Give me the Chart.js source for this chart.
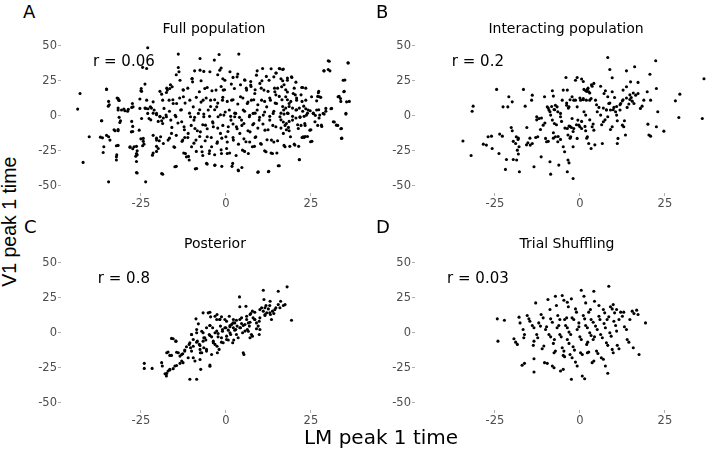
<!DOCTYPE html>
<html>
<head>
<meta charset="utf-8">
<script src="https://cdn.jsdelivr.net/npm/chart.js@4.4.1/dist/chart.umd.min.js"></script>
<style>
  body { margin: 0; width: 708px; height: 451px; background: #fff; position: relative; overflow: hidden; font-family: "DejaVu Sans", sans-serif; }
  canvas { position: absolute; }
  .txt { position: absolute; white-space: nowrap; color: #000; line-height: 1; }
  .title { width: 240px; text-align: center; font-size: 14px; }
  .tag { font-size: 18px; }
</style>
</head>
<body>
<canvas id="chartA"></canvas>
<canvas id="chartB"></canvas>
<canvas id="chartC"></canvas>
<canvas id="chartD"></canvas>

<div class="txt tag" style="left:23px;top:3px">A</div>
<div class="txt tag" style="left:376px;top:3px">B</div>
<div class="txt tag" style="left:24px;top:218px">C</div>
<div class="txt tag" style="left:376px;top:218px">D</div>

<div class="txt title" style="left:94px;top:21px">Full population</div>
<div class="txt title" style="left:446px;top:21px">Interacting population</div>
<div class="txt title" style="left:95px;top:236px">Posterior</div>
<div class="txt title" style="left:447px;top:236px">Trial Shuffling</div>

<div class="txt" style="left:281px;top:427px;width:200px;text-align:center;font-size:20px">LM peak 1 time</div>
<div class="txt" style="left:-90.5px;top:212px;width:200px;height:19.5px;text-align:center;font-family:'Liberation Sans',sans-serif;font-size:19.5px;transform:rotate(-90deg)">V1 peak 1 time</div>

<script>
// ---- data ----
const xTicks = [-25, 0, 25];
const yTicks = [-50, -25, 0, 25, 50];
const rLabels = ["r = 0.06", "r = 0.2", "r = 0.8", "r = 0.03"];

const fullPopulation = [
  [-43.6,4.8],[-42.9,16],[-40.2,-15],[-42,-33.4],[-36.6,-3.6],[-36.3,-15.8],[-35.9,-22.2],[-36.1,-26.3],[-35.1,18.9],[-34.6,6.9],
  [-34.5,10.3],[-34.5,-15],[-34.1,-17.4],[-34.5,-47.3],[-32.2,-29.4],[-32.2,-31.7],[-32.2,-21.5],[-32.6,-10.7],[-31.7,12.4],[-31.5,11.2],
  [-31.7,4.1],[-31.2,-4.8],[-31.7,-9.8],[-30.7,4.1],[-30,4.8],[-28.9,3.3],[-28.2,-22.2],[-27.8,-11.5],[-27.5,8.8],[-27.3,6.4],
  [-27,-22.2],[-26.5,-28.9],[-26.3,-27],[-26.3,-40.6],[-25.5,-10.3],[-25,17.9],[-24.9,19.6],[-24.5,-21.5],[-24.1,-20.3],[-23.8,22.7],
  [-23.6,-47.3],[-24.3,-16.2],[-24.8,-1.9],[-25.3,5.3],[-23.3,11.2],[-23.6,5.3],[-23,1.7],[-22.6,-1.9],[-22.2,6.4],[-21.6,-28.2],
  [-21.4,10],[-21.1,4.1],[-20.4,1.7],[-20.4,-17.4],[-19.9,-23.4],[-19.4,-0.7],[-19.2,-15],[-18.9,-41.3],[-18.6,11.2],[-18.6,-5.5],
  [-18.4,-19.8],[-18.2,5.3],[-17.6,0.5],[-17.5,-0.7],[-17.5,16.7],[-17.2,18.4],[-17,-17.4],[-16.7,11.2],[-16.5,19.6],[-16.2,-3.1],
  [-16,-12.6],[-15.8,20.8],[-15.5,8.8],[-15.3,-22.2],[-15,-36.5],[-14.7,-0.7],[-14.5,8.8],[-14,34.6],[-14,44.2],[-13.8,31.5],
  [-13.5,25.5],[-13.3,4.1],[-13,-4.3],[-12.7,-17.4],[-12.5,13.6],[-12.5,18.4],[-12.3,-7.9],[-12.1,-15.5],[-11.9,-27],[-11.6,-29.4],
  [-11.1,-12.6],[-10.8,-31.7],[-10.6,11.2],[-10.4,-0.7],[-10.1,-22.2],[-9.9,26.7],[-9.8,24.3],[-9.6,6.4],[-9.4,-3.1],[-9.1,-9.1],
  [-8.8,-17.4],[-8.6,-37.7],[-8.1,1.7],[-7.8,17.2],[-7.6,41],[-7.6,32.7],[-7.5,-11.5],[-7.2,-22.2],[-7,-25.8],[-6.7,11.2],
  [-6.5,-0.7],[-6.2,19.6],[-6,-6.7],[-5.7,-34.1],[-5.5,-15],[-5.2,4.1],[-4.9,-27],[-4.7,31.5],[-4.5,11.2],[-4.2,-22.2],
  [-3.9,-4.3],[-3.7,-7.9],[-3.4,39.9],[-3.2,-35.3],[-2.9,18.4],[-2.7,6.4],[-2.5,-18.6],[-2.3,-0.7],[-2,43.9],[-1.8,32.7],
  [-1.6,-12.6],[-1.3,-27],[-1,11.2],[-0.8,18.4],[-0.6,0.5],[-0.3,25.5],[0,-15],[0.2,-23.4],[0.4,-27],[0.7,-7.9],
  [1,4.1],[1.2,31.5],[1.5,-3.1],[1.7,11.2],[2,-34.1],[2.2,-17.4],[2.5,19.6],[2.6,-0.7],[2.9,1.7],[3.1,-7.9],
  [3.3,27.9],[3.6,-38.9],[3.8,44.2],[4.1,-12.6],[4.3,13.6],[4.6,-3.1],[4.9,-24.6],[5.1,4.1],[5.3,-5.5],[5.6,25.5],
  [5.9,-18.6],[6.1,18.4],[6.3,8.8],[6.6,-27],[6.9,-0.7],[7.1,-11.5],[7.3,22],[7.5,11.2],[7.8,-22.2],[8,1.7],
  [8.2,-5.5],[8.5,16],[8.8,-15],[9,29.1],[9.2,4.1],[9.5,-40.1],[9.8,-3.1],[10,23.2],[10.2,-19.8],[10.5,11.2],
  [10.8,33.9],[11,0.5],[11.2,18.4],[11.5,-10.3],[11.8,-25.8],[12,6.4],[12.5,-40.1],[12.7,25.5],[12.9,-3.1],[13.1,11.2],
  [13.4,-17.4],[13.7,-27],[13.9,1.7],[14.1,27.9],[14.4,17.2],[14.7,-7.9],[14.9,8.8],[15.4,-35.8],[15.7,33.9],[15.9,-0.7],
  [16.4,20.8],[16.7,33.2],[16.9,-12.6],[17,4.1],[17.4,-22.2],[17.6,13.6],[17.8,-5.5],[18.1,25.5],[18.3,1.7],[18.6,8.8],
  [19,-15],[19.3,27.9],[19.6,-3.1],[19.8,16],[20.3,-21],[20.6,4.1],[20.8,11.2],[21.3,-9.1],[21.6,-31.3],[21.8,-0.7],
  [22.3,20.3],[22.7,-15],[22.9,6.9],[23.2,-5.5],[23.5,11.2],[23.7,0.5],[24.2,4.1],[24.7,-10.3],[24.9,-18.6],[25.2,13.6],
  [25.7,1.7],[26.2,-4.3],[26.7,4.1],[27.2,16.5],[27.5,13.6],[27.6,0.5],[28.1,-6.7],[28.6,1.7],[28.8,32.2],[29.4,5.3],
  [30.1,33.2],[30.4,39.1],[30.6,32.2],[31.1,5.3],[31.6,-4.3],[32.5,-6.7],[33,13.6],[33.7,12.4],[34,-9.1],[34,-16.2],
  [34.5,25.5],[34.7,17.2],[35.3,1.7],[35.5,10],[35.9,37.9],[-23,48.7],[-23.3,33.9],
  [-24.5,34.7],[-35.1,19.1],[-34.3,7.9],[-32,12.7],[-31.4,11],[-31.7,5.5],[-29.7,3.6],[-28.7,4.6],[-27.7,6],[-25.3,12],
  [-24.8,17.5],[-23.8,5.5],[-22.9,5],[-21.9,5.5],[-19.4,17.5],[-18.9,15.5],[-17.4,19.8],[-21.4,1.9],[-20.4,0.7],[-19.4,-0.4],
  [-18.4,-1.6],[-22.1,-2.9],[-19.9,-4],[-18.9,-3.6],[-36.5,-3.6],[-31.4,-1.1],[-31,-3.6],[-27.7,-4],[-27.4,-7.6],[-27.4,-11.2],
  [-32.9,-10],[-31.7,-10.7],[-36.9,-15.3],[-35.1,-14],[-31.7,-21.2],[-28.2,-22.6],[-27.4,-23.6],[-26.3,-21.9],[-26.1,-25.1],[-25,-16.5],
  [-24.3,-18.3],[-21.4,-14],[-20.4,-16],[-19.6,-17.9],[-20.4,-21.9],[-21.4,-26.7],[-20.4,-25.5],[-32.1,-27.9],[-26.1,-27.9],[-26.3,-32.7],
  [-26.1,-41],[-18.6,-41.8],
  [-1.4,34.2],[-9.2,32.2],[-6.5,31.8],[3.5,29.9],[9.2,32.2],[13.3,33.7],[14.8,30.6],
  [-14.6,29.4],[-10,26.5],[-7.3,25.1],[-2.4,29.4],[-0.9,26.5],[2.1,27.5],[5.5,25.8],[7.3,24.6],[10.6,25.1],[11.9,28.2],
  [-16.3,22.2],[-12.6,18.6],[-11.2,19.8],[-5.5,20.3],[-4.1,17.9],[-1.4,21],[-0.4,18.6],[1.6,22.7],[4.3,22.2],[6,19.8],
  [7.4,21],[8.6,18.6],[10.4,19.8],[12.4,17.5],[14.3,19.8],
  [-15.6,11.5],[-13.6,12.7],[-12,9.1],[-8.7,13.2],[-7.3,9.8],[-5.8,12.7],[-4.5,6.7],[-3.3,11.5],[-2.4,9.1],[-0.9,13.2],
  [0.4,10.3],[2.1,11.5],[3.5,8.4],[5,12.7],[6.5,9.8],[8.2,11.5],[9.4,7.9],[11.4,10.3],[12.9,12.7],[14.5,9.1],
  [-16.6,3.2],[-14.9,0.3],[-13.1,4.3],[-10.7,1.9],[-9.2,-1.1],[-7.7,4.3],[-6.5,1.2],[-4.8,-0.4],[-3.3,4.3],[-1.6,0.7],
  [-0.2,2.7],[1.4,-0.4],[2.6,1.9],[4,-1.1],[5.5,3.2],[7,0.3],[8.6,1.9],[9.9,-1.1],[11.4,2.7],[12.9,-0.4],[14.1,3.2],
  [-15.9,-8.3],[-14.1,-5.2],[-12.2,-10],[-10.2,-6.9],[-8.4,-10.7],[-6.8,-6.4],[-5.5,-9.3],[-3.8,-5.2],[-2.4,-8.8],[-0.9,-6.9],
  [0.6,-11.2],[2.1,-5.9],[3.3,-9.3],[4.7,-6.9],[6.5,-10.7],[7.9,-6.4],[9.4,-8.8],[10.9,-5.9],[12.4,-10],[13.8,-6.9],
  [-16.6,-16],[-14.6,-14],[-12.9,-18.3],[-11.2,-15.5],[-9.4,-19.6],[-7.7,-14.8],[-6.1,-17.9],[-4.3,-15.5],[-2.6,-19.6],[-1.2,-16],
  [0.4,-18.8],[2.1,-15.5],[3.7,-20.3],[5.3,-16.5],[7,-18.8],[8.6,-15.5],[10.4,-20.3],[12.1,-17.2],[14.1,-18.8],
  [-15.1,-22.6],[-12.4,-26.7],[-11,-29.1],[-8.7,-25.5],[-6.8,-28.4],[-4.8,-25.1],[-3.3,-27.9],[-1.4,-24.4],[1.1,-26.7],[3,-28.4],
  [5.5,-25.5],[8.4,-21.9],[11.4,-25.1],[13.3,-26.7],
  [-14.6,-36.2],[-9,-38],[-5.5,-34.6],[-3.3,-35.5],[-1.2,-36.2],[1.8,-36.2],[3.7,-39.4],[4.7,-37],[9.4,-40.5],[12.6,-39.8],
  [30.1,39.4],[36,37.8],[28.9,32.2],[35,25.6],[34.8,17.5],[33.3,13.9],[36.3,10.3],[33.8,10.3],[35.3,1.2],[31.9,-4.5],
  [32.9,-6.9],[33.8,-9.3],[34.1,-16],[27.3,17.5],[27,13.9],[27.9,13.2],[26.7,10.7],[30.9,5],[29.4,3.2],[28.9,1.2],
  [27.3,4.3],[27.4,-1.6],[27,-6.9],[28.2,-7.6],[25,-10],[25.3,-18.3],[24,-14.8],[23,-15.5],[21.4,-21.9],[20.1,-20.3],
  [18.8,-21.9],[17.1,-21.2],[15.2,-17.9],[15,-26.7],[15.7,-35.8],[21.6,-31.5],
  [15.9,33.7],[16.9,33.5],[14.7,30.6],[16.2,26.5],[16.7,25.1],[18.1,27],[19.4,27.5],[20.6,24.1],[17.1,22.2],[22.6,20.3],
  [23.5,19.8],[15.2,19.8],[14.7,15],[17.6,18.6],[18.1,17],[20.1,19.8],[20.4,15],[22.1,15],[15.7,13.9],[16.5,11.5],
  [18.1,11.5],[19.1,10.3],[20.8,12.7],[22.4,10.3],[16.7,6.7],[17.6,5.5],[18.6,6.7],[19.6,5.5],[20.8,4.3],[21.6,5.5],
  [22.6,3.2],[23.5,5],[24,1.9],[24.8,3.6],[25.7,1.9],[26.3,0.3],[16.2,1.9],[17.1,1.2],[18.1,1.9],[19.6,-0.4],
  [20.6,-1.6],[21.8,-1.1],[23,-0.4],[16.2,-2.9],[16.9,-4.5],[17.4,-6.9],[18.6,-4],[18.4,-8.3],[21.1,-6.4],[22.1,-6.9],
  [23.3,-6.9],[16.2,-8.8],[17.8,-10],[18.6,-10.7],[22.4,-15.5],[23.3,-14.8]
];

const interactingPopulation = [
  [-34.4,-18.1],[-32,-28.4],[-31.7,3.3],[-31.4,6.9],[-28.4,-20.3],[-27.5,-21],[-27,-15],[-26,-14.6],[-25.8,-23.4],[-23.8,-27],
  [-24.5,18.9],[-23.6,-13.1],[-22.8,-14.6],[-22.6,6.4],[-21.2,6.4],[-21.9,-38.4],[-21.6,-31.3],[-19.6,-31.3],[-18.6,-31.7],[-20.9,13.6],
  [-19.9,10],[-20.2,-8.4],[-19.9,-10.7],[-18.7,-15],[-18.2,-16.9],[-18.9,-19.8],[-17.9,-22.2],[-18.1,-27.4],[-18.4,-24.6],[-17.8,-40.1],
  [-16.6,18.9],[-16.1,6.9],[-15.6,-8.4],[-15.3,-19.3],[-14.6,-21],[-14,-19.8],[-14,14.8],[-14.2,11.2],[-13.5,-36.5],[-13,-15.5],
  [-12.4,-15],[-12.7,-0.7],[-12,-1.9],[-11.6,-9.8],[-11.4,-29.4],[-10.4,13.6],[-10.8,-6.7],[-10.1,-16.2],[-9.6,6.4],[-9.1,4.1],
  [-8.8,2.9],[-8.6,0.5],[-9.8,-18.6],[-8.8,-32.9],[-8.6,-41.8],[-8.1,17.9],[-7.8,14.1],[-8.1,-3.1],[-7.5,-5.5],[-7.8,-12.2],
  [-7.2,-15],[-7.2,7.6],[-6.7,6.4],[-7.6,4.5],[-6.5,2.9],[-5.7,1.7],[-5.7,-0.7],[-6.5,-18.6],[-5.7,-16.9],[-6.2,-35.3],
  [-4.9,18.4],[-5.2,11.2],[-4.9,-22.2],[-4.5,-25.8],[-4.1,27.4],[-3.7,18.4],[-3.9,7.6],[-3.2,6.4],[-3.7,-9.1],[-3.2,-7.4],
  [-3.5,-13.8],[-2.7,-15],[-3.5,-31.7],[-3.2,-33.7],[-3.7,-40.1],[-2,-44.9],[-2.3,13.6],[-1.8,11.2],[-2.3,-1.9],[-2.5,-8.4],
  [-1.8,-9.1],[-2,-22.2],[-1.3,25.5],[-0.8,27.4],[-1.3,11.2],[-0.8,6.4],[-0.6,-3.1],[-0.3,-6.7],[-0.8,-16.2],[0,-7.9],
  [0.5,-9.1],[0.2,11.2],[1,12.4],[0.5,26.3],[1,24.6],[1.2,18.9],[1.7,17.9],[2.2,18.9],[2.6,17.2],[1.2,2.9],
  [1.7,0.5],[1.9,11.2],[2.9,11.2],[3.3,12.4],[1.7,-10.7],[2.2,-15],[2.6,-19.8],[3.3,-23.4],[3.6,-7.9],[4.1,-10.3],
  [4.1,23.2],[3.6,21.2],[4.6,11.2],[5.1,2.9],[5.6,6],[6.1,0.5],[6.1,21.2],[6.9,-4.3],[6.6,-19.8],[7.1,16],
  [7.5,17.9],[7.8,4.1],[8.2,-0.7],[8.5,8.8],[9,4.1],[8.2,13.6],[8.2,41.8],[9,-9.8],[9.5,-7.9],[9.5,17.2],
  [10.2,13.1],[10,6],[10.5,2.9],[9.5,27.2],[8.8,33.2],[10.8,0.5],[11,-3.6],[11,-19.8],[11.2,-16.2],[11.8,4.1],
  [12,8.8],[12.5,10.7],[12.5,-6.7],[12.7,18.4],[12.9,-7.9],[13.1,-3.6],[13.4,-13.8],[13.7,20.8],[13.7,32.2],[13.9,6],
  [14.4,8.4],[14.7,11.7],[15.1,13.1],[14.9,24.3],[15.4,10.5],[15.9,8.8],[16.1,35.1],[16.4,14.8],[17.1,23.9],[17.1,16],
  [17.8,5.3],[18.3,6.9],[18.8,11.2],[19.8,17.2],[20,-6],[20.3,-13.8],[20.8,-14.6],[20.6,29.8],[20.8,11.2],[22.3,39.4],
  [22.5,19.6],[22.5,-7.9],[22.9,2.9],[24.7,-11],[28.1,10.7],[29.4,15.5],[29.1,-1.2],[36,-1.9],[36.5,26.5],
  [-9.3,5.5],[-8.3,6.7],[-7.4,4.3],[-3.9,9.1],[-3.4,5.5],[-2.9,11.5],[0,12.7],[1,11.5],[2,17.5],[2.4,19.8],
  [2.9,16.3],[3.4,22.2],[4.9,7.9],[6.9,5.5],[7.8,4.3],[8.8,9.1],[9.8,4.3],[10.8,6.7],[11.8,7.9],[12.7,11.5],
  [13.7,12.7],[14.7,15],[15.7,16.3],[-12.7,-2.9],[-11.3,-1.6],[-10.3,-5.2],[-6.9,-6.4],[-5.4,-4],[-4.4,-8.8],[-2.9,-7.6],
  [-2,-11.2],[-1,-6.4],[0.5,-4],[1.5,-7.6],[2.9,-2.9],[3.9,-5.9],[6.4,-6.4],[7.4,-2.9],[-7.8,-16],[-6.4,-14.8],
  [-9.3,-18.3],[-14.7,-16],[-15.7,-20.8],[-18.1,-16],[-19.6,-18.3],[2,-16],[4.4,-20.8],[-2.9,-16]
];

const posterior = [
  [-24,-21.9],[-24,-25.5],[-21.7,-25.5],[-18.9,-21.4],[-18.7,-23.8],[-17.9,-29.3],[-17.5,-31],[-17,-27.4],[-16.5,-26.7],[-17,-13.8],
  [-16.5,-16.2],[-16,-4],[-14.7,-6],[-15.5,-25.7],[-15,-23.8],[-14,-14.3],[-13.5,-16.7],[-12.7,-15],[-13.5,-21.9],[-13,-20.2],
  [-12.1,-13.1],[-11.6,-10],[-10.8,-8.3],[-10.4,-10.7],[-10.1,-13.1],[-10.6,-33.3],[-8.6,-33.3],[-10.1,-1.2],[-9.6,-4.8],[-9.6,-17.9],
  [-9.1,-20.2],[-8.8,10],[-8.6,2.4],[-8.4,-6],[-7.8,-8.3],[-7.6,-11.9],[-7.5,-14.3],[-7.4,-26.2],[-6.7,0],[-6.5,-3.6],
  [-5.9,-5.2],[-6.5,-10.7],[-5.7,-13.1],[-5.2,14.3],[-4.5,11.4],[-4.7,5.2],[-3.9,3.6],[-4.9,-1.2],[-4.2,-2.9],[-4.7,-23.1],
  [-3.7,-6],[-3.2,-8.3],[-3.2,11.9],[-2.7,9.5],[-2.7,1.2],[-2.3,-0.5],[-2.5,-14.3],[-2,-11.9],[-1.8,9.5],[-1.3,11.4],
  [-1.6,4.8],[-1,2.4],[-1.3,-3.6],[-0.8,-7.1],[-0.3,9.5],[0.2,8.3],[0,3.6],[0.7,1.9],[0.2,-2.4],[0.7,-5.2],
  [1,11.9],[1.2,4.3],[1.7,6],[2.2,3.6],[1.4,-1.2],[2,-7.1],[2.3,-5.2],[2.2,9.5],[2.6,7.1],[2.9,2.4],
  [3.3,4.8],[3.1,-1.2],[3.6,-3.6],[4,25.7],[4.1,18.6],[4.1,9.5],[4.6,6.7],[4.3,3.6],[5.1,5.2],[4.9,0],
  [5.6,1.2],[5.1,-14.3],[5.3,-15.5],[5.9,19],[6.1,11.9],[6.1,9.5],[6.6,7.1],[6.3,2.4],[6.9,4.8],[7.1,-3.6],
  [7.5,-1.2],[7.3,13.8],[7.8,15.5],[8,10.7],[8.5,9.5],[9,7.1],[9.8,8.3],[9.5,4.8],[10,2.4],[10.5,17.9],
  [11,15.5],[11.2,23.8],[11,30.5],[11.5,13.1],[12,14.3],[11.8,19.5],[12.5,17.1],[13,22.6],[13.1,13.1],[13.4,9.5],
  [13.7,15.5],[14.1,13.8],[14.7,17.9],[15.4,20.2],[15.9,17.9],[15.4,29.8],[16.1,22.6],[16.9,19.5],[17.4,20.2],[18,32.9],
  [19.3,9],[9.8,-1.2],[-8.1,6.4],[-6.7,14.3],
  [-17.4,-14.3],[-16,-16.2],[-14.5,-13.9],[-13,-15.5],[-12.1,-12.4],[-15.5,-4.3],[-14.7,-6],[-10.6,-7.1],[-9.6,-9.6],[-8.6,-6.7],
  [-7.6,-9.1],[-6.7,-6],[-10.1,-1.2],[-8.6,0],[-7.1,1.1],[-5.7,3.6],[-4.7,5.2],[-6.2,-3.6],[-4.7,-1.9],[-3.2,0],
  [-2.3,-2.9],[-1,1.1],[-3.7,-7.1],[-2.6,-9.6],[-1.3,-6.7],[0.2,-4.8],[-0.3,3.6],[1.2,5.2],[2.1,7.1],[3.1,9],
  [4.6,10.7],[1.2,0],[2.6,1.9],[4.1,3.6],[5.6,5.9],[7.1,7.6],[7.1,13.1],[8.5,14.7],[10,16.6],[11.5,17.9],
  [12.9,19.5],[8.5,9.5],[10,10.7],[11.5,12.4],[12.9,14.3],[14.4,16.6],[6.6,1.1],[7.8,-2.4],[9,2.9],[-7.1,-14.3],
  [-5.7,-11.9],[-4.2,-15.5],[-7.6,-19.1],[-11.1,-17.9],[-12.6,-21.4],[-14.5,-23.4],[-16.5,-26.2],[-17.4,-29.1],[-4.7,-23.9],[-1.8,9.5],
  [-2.6,13.1],[-4.7,14.7]
];

const trialShuffling = [
  [-24.3,10],[-22.2,9],[-24.1,-6],[-19.4,-4.3],[-18.9,-6.7],[-18.4,-8.3],[-17.9,11.2],[-17.6,7.1],[-16.7,2.4],[-16.3,-1.2],
  [-16.5,-3.6],[-17,-23.3],[-16.3,-21.9],[-15.5,12.4],[-15,10],[-14.7,8.3],[-14,5.2],[-13.5,3.6],[-13.7,-9],[-13.5,-6],
  [-13.5,-18.6],[-13.5,-28.1],[-13,21.4],[-12.7,-1.2],[-12.4,-3.6],[-12.1,7.1],[-11.6,4.8],[-11.4,13.1],[-10.8,10.7],[-11.1,-11.4],
  [-10.6,-9.5],[-10.4,-21.4],[-9.6,-21.9],[-10.1,2.4],[-9.8,4.3],[-9.4,23.8],[-8.8,16.7],[-9.1,-1.2],[-8.6,-2.9],[-8.6,10],
  [-8.1,7.6],[-8.1,-23.8],[-7.6,-25],[-7.8,-7.6],[-7.5,-4.8],[-7.6,-14.3],[-7.2,-13.1],[-7.2,26.2],[-6.9,19.5],[-6.7,3.6],
  [-6.2,5.2],[-6.5,12.4],[-5.9,9.5],[-5.9,-1.2],[-5.5,-2.9],[-5.7,-27.4],[-4.9,-26.2],[-5.2,26.7],[-4.7,23.3],[-5.2,-10.7],
  [-4.7,-13.1],[-4.9,-16.2],[-4.5,-17.1],[-4.5,9.5],[-3.9,10.7],[-4.2,5.2],[-3.7,3.6],[-3.7,21.9],[-3.4,18.6],[-3.7,-4.8],
  [-3.2,-7.6],[-3.2,0.5],[-2.7,-1.2],[-2.9,-15.5],[-2.3,-17.9],[-2.5,24.3],[-2.5,-33.3],[-2.3,10.7],[-1.8,9.5],[-2,-10],
  [-1.6,-12.4],[-1.3,17.1],[-1,14.8],[-1.3,-21],[-0.8,-23.8],[-0.8,2.4],[-0.3,4.3],[-0.3,7.1],[0,-2.9],[0.4,-4.8],
  [0.2,-14.3],[0.7,-15.5],[0.4,30.5],[0.7,-31],[1.4,-32.9],[1,12.4],[1.4,10],[1.2,26.2],[1.7,21.4],[1.7,5.2],
  [2.2,3.6],[2,-8.3],[2.3,-6.7],[2.2,-14.3],[2.6,-13.8],[2.6,14.8],[3.1,16.7],[2.9,0],[3.3,-1.9],[3.3,9.5],
  [3.9,7.6],[3.6,-21.4],[4.1,-20.2],[3.9,-4.8],[4.3,-2.9],[4.1,29.8],[4.3,22.6],[4.6,4.8],[5.1,2.4],[4.9,-13.1],
  [5.3,-14.8],[5.6,11.9],[5.9,9.5],[5.6,19.5],[6.1,-1.2],[6.6,-3.6],[6.3,-17.9],[6.9,-19],[6.9,16.7],[7.3,14.3],
  [7.1,6.7],[7.5,3.6],[7.5,-23.8],[7.8,-7.1],[8.2,-9],[8,9.5],[8.5,11.4],[8.2,-29],[8.5,33.3],[8.8,0],
  [9.2,-2.4],[9,18.6],[9.5,17.1],[9.5,-11.9],[9.8,-14.3],[9.8,20.2],[10,8.3],[10.5,5.2],[10.2,14.3],[10.8,16.7],
  [10.8,1.2],[11,-9],[11.5,-11.4],[11.5,9.5],[12,14.8],[12.5,11.9],[12.9,14.8],[13.1,4.3],[13.7,2.4],[13.9,-4.8],
  [14.4,-6.7],[14.7,9.5],[15.4,15.5],[15.9,13.8],[15.7,-10.7],[16.7,16.2],[17.1,13.1],[17.4,-15.5],[19.3,7.1]
];

// ---- layout ----
const X_MIN = -48.5, X_MAX = 44.15, Y_MIN = -55.3, Y_MAX = 55;
const R_AT = { x: -30, y: 40 };
const AXIS_W = 40, AXIS_H = 22, PAD = 10, AREA_W = 315, AREA_H = 154;

const panels = [
  { id: "chartA", left: 61,  top: 39,  points: fullPopulation,        r: rLabels[0] },
  { id: "chartB", left: 415, top: 39,  points: interactingPopulation, r: rLabels[1] },
  { id: "chartC", left: 61,  top: 256, points: posterior,             r: rLabels[2] },
  { id: "chartD", left: 415, top: 256, points: trialShuffling,        r: rLabels[3] }
];

const rLabel = {
  id: "rLabel",
  afterDatasetsDraw(chart, args, opts) {
    const { ctx, scales: { x, y } } = chart;
    ctx.save();
    ctx.font = '15px "DejaVu Sans"';
    ctx.fillStyle = "#000";
    ctx.textAlign = "center";
    ctx.textBaseline = "middle";
    ctx.fillText(opts.text, x.getPixelForValue(R_AT.x), y.getPixelForValue(R_AT.y) + 2);
    ctx.restore();
  }
};

const tickFont = { family: "DejaVu Sans", size: 11.5 };

panels.forEach(p => {
  const canvas = document.getElementById(p.id);
  const w = AXIS_W + AREA_W + PAD, h = PAD + AREA_H + AXIS_H;
  canvas.width = w; canvas.height = h;
  canvas.style.width = w + "px"; canvas.style.height = h + "px";
  canvas.style.left = (p.left - AXIS_W) + "px";
  canvas.style.top = (p.top - PAD) + "px";

  new Chart(canvas, {
    type: "scatter",
    data: {
      datasets: [{
        data: p.points.map(([x, y]) => ({ x, y })),
        backgroundColor: "#000",
        borderWidth: 0,
        pointRadius: 1.55
      }]
    },
    options: {
      responsive: false,
      animation: false,
      events: [],
      layout: { padding: { top: PAD, right: PAD, bottom: 0, left: 0 } },
      plugins: { legend: { display: false }, tooltip: { enabled: false }, rLabel: { text: p.r } },
      scales: {
        x: {
          type: "linear", min: X_MIN, max: X_MAX,
          afterBuildTicks: s => { s.ticks = xTicks.map(v => ({ value: v })); },
          afterFit: s => { s.height = AXIS_H; },
          grid: { drawOnChartArea: false, tickLength: 3, tickColor: "#9a9a9a", tickWidth: 0.8 },
          border: { display: false },
          ticks: { color: "#4d4d4d", font: tickFont, padding: 1, maxRotation: 0, autoSkip: false }
        },
        y: {
          type: "linear", min: Y_MIN, max: Y_MAX,
          afterBuildTicks: s => { s.ticks = yTicks.map(v => ({ value: v })); },
          afterFit: s => { s.width = AXIS_W; },
          grid: { drawOnChartArea: false, tickLength: 3, tickColor: "#9a9a9a", tickWidth: 0.8 },
          border: { display: false },
          ticks: { color: "#4d4d4d", font: tickFont, padding: 1, autoSkip: false }
        }
      }
    },
    plugins: [rLabel]
  });
});
</script>
</body>
</html>
